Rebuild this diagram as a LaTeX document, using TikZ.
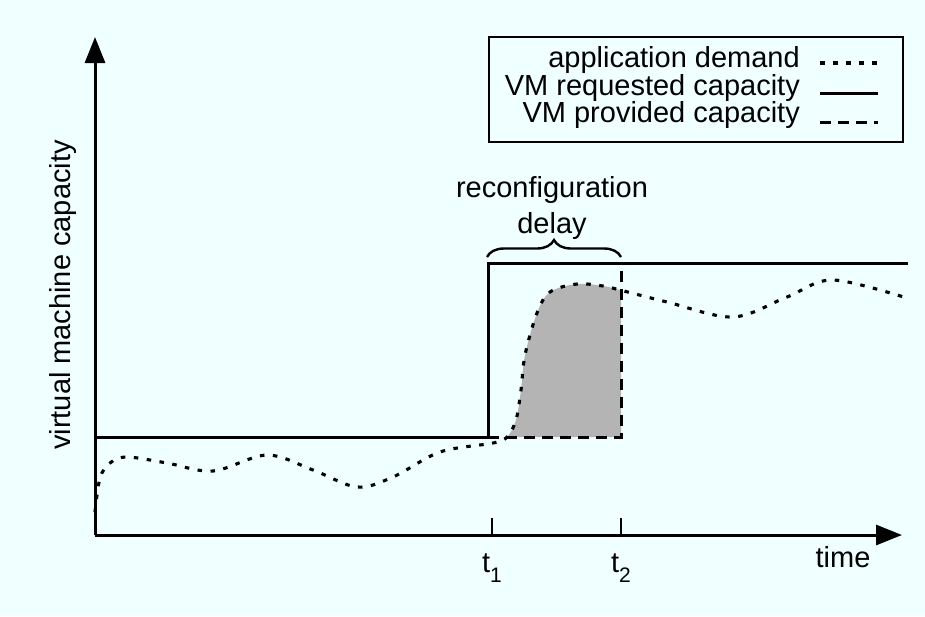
\documentclass[tikz,border=0pt]{standalone}
\usepackage{fontspec}
\setmainfont{Liberation Sans}
\usetikzlibrary{arrows.meta,decorations.pathreplacing}
\definecolor{bgc}{RGB}{240,255,255}
\definecolor{shadec}{RGB}{180,180,180}
\begin{document}
\begin{tikzpicture}[x=1pt,y=-1pt,
  lbl/.style={font=\fontsize{29}{35}\selectfont, inner sep=0pt},
  solidline/.style={line width=3pt},
  demand/.style={line width=3.1pt, dash pattern=on 4.5pt off 8.5pt},
  provided/.style={line width=3pt, dash pattern=on 11pt off 7pt},
  axis/.style={line width=3pt, -{Triangle[length=26pt,width=20pt]}},
  tick/.style={line width=2.7pt}]
\useasboundingbox (0,0) rectangle (925,616);
\fill[bgc] (0,0) rectangle (925,616);

\coordinate (O) at (95,535);
\coordinate (ytop) at (95,37);
\coordinate (xend) at (902,535);

% shaded region
\begin{scope}
\clip (505,437) rectangle (621,200);
\fill[shadec] plot[smooth,tension=0.55] coordinates {(95,512) (100,478) (110,463) (127,457) (167,463) (213,471) (267,455) (313,470) (357,487) (393,477) (440,452) (493,443) (507,437) (516,420) (521,390) (525,355) (537,313) (550,292) (577,284) (603,286) (620,290) (667,302) (733,317) (787,297) (833,280) (910,299)} -- (910,437) -- (95,437) -- cycle;
\end{scope}

% requested capacity
\draw[solidline] (95,437) -- (488,437) -- (488,263) -- (908,263);
% provided capacity
\draw[provided] (488,437) -- (621,437) -- (621,263);
% demand
\draw[demand] plot[smooth,tension=0.55] coordinates {(95,512) (100,478) (110,463) (127,457) (167,463) (213,471) (267,455) (313,470) (357,487) (393,477) (440,452) (493,443) (507,437) (516,420) (521,390) (525,355) (537,313) (550,292) (577,284) (603,286) (620,290) (667,302) (733,317) (787,297) (833,280) (910,299)};

% axes
\draw[axis] (O) -- (ytop);
\draw[axis] (O) -- (xend);

% ticks
\coordinate (t1b) at (492,535);
\coordinate (t1t) at (492,518);
\coordinate (t2b) at (621,535);
\coordinate (t2t) at (621,518);
\draw[tick] (t1b) -- (t1t);
\draw[tick] (t2b) -- (t2t);
\node[lbl, anchor=base] (t1) at (492,572) {t\raisebox{-0.35em}{\fontsize{21}{21}\selectfont 1}};
\node[lbl, anchor=base] (t2) at (621,572) {t\raisebox{-0.35em}{\fontsize{21}{21}\selectfont 2}};
\node[lbl, anchor=base] (time) at (843,567) {time};

% y label
\node[lbl, rotate=90, anchor=base] (ylab) at (70,295) {virtual machine capacity};

% brace and label
\coordinate (bl) at (487,257);
\coordinate (br) at (621,257);
\draw[line width=2.4pt, decorate, decoration={brace, amplitude=17pt}] (bl) -- (br);
\node[lbl, anchor=base] (rec) at (552,197) {reconfiguration};
\node[lbl, anchor=base] (del) at (552,233) {delay};

% legend
\node[draw, line width=2.3pt, minimum width=414pt, minimum height=105pt, inner sep=0pt] (legend) at (696,89.5) {};
\node[lbl, anchor=base east] (l1) at (800,67) {application demand};
\node[lbl, anchor=base east] (l2) at (800,95) {VM requested capacity};
\node[lbl, anchor=base east] (l3) at (800,122) {VM provided capacity};
\coordinate (s1a) at (820,63); \coordinate (s1b) at (878,63);
\coordinate (s2a) at (820,93); \coordinate (s2b) at (878,93);
\coordinate (s3a) at (820,122); \coordinate (s3b) at (878,122);
\draw[demand] (s1a) -- (s1b);
\draw[solidline] (s2a) -- (s2b);
\draw[provided] (s3a) -- (s3b);
\end{tikzpicture}
\end{document}
